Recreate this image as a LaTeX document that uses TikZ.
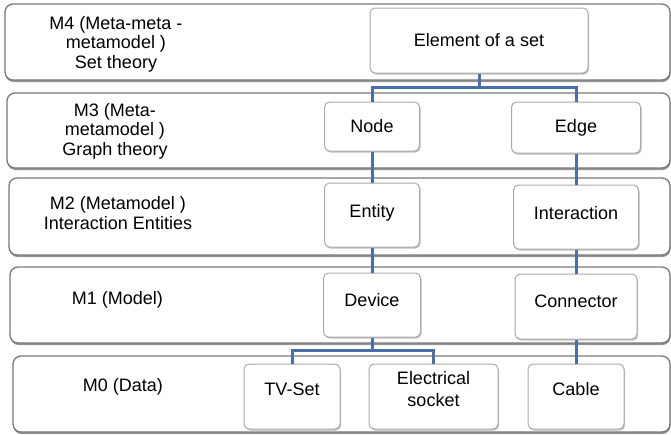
\documentclass[tikz,border=0pt]{standalone}
\usepackage{fontspec}
\setmainfont{Liberation Sans}
\usetikzlibrary{shadows}
\definecolor{linkblue}{RGB}{74,110,168}
\definecolor{bandgray}{RGB}{120,120,120}
\definecolor{boxgray}{RGB}{170,170,170}

\begin{document}
\begin{tikzpicture}[x=1pt, y=-1pt]

    % Styles
    \tikzstyle{layer} = [rectangle, rounded corners=8pt, draw=bandgray, line width=1.3pt, fill=white, drop shadow={shadow xshift=0.5pt, shadow yshift=-2pt, fill=black!70, opacity=0.6}]
    \tikzstyle{layertext} = [align=center, font=\fontsize{18}{19.5}\selectfont]
    \tikzstyle{bloc} = [rectangle, rounded corners=5pt, draw=boxgray, line width=1pt, fill=white, align=center, inner sep=2pt, font=\fontsize{18}{22}\selectfont, drop shadow={shadow xshift=1pt, shadow yshift=-1.5pt, fill=black!50, opacity=0.5}]
    \tikzstyle{link} = [draw=linkblue, line width=3pt]

    \useasboundingbox (0,0) rectangle (671,434);

    % Couches
    \node (m4) [layer, minimum width=665pt, minimum height=76pt] at (337.5,42) {};
    \node (m3) [layer, minimum width=663pt, minimum height=75pt] at (338.5,130.5) {};
    \node (m2) [layer, minimum width=661pt, minimum height=77pt] at (339.5,216.5) {};
    \node (m1) [layer, minimum width=660pt, minimum height=76pt] at (340,305) {};
    \node (m0) [layer, minimum width=657pt, minimum height=76pt] at (341.5,394) {};

    \node (m4-text) [layertext] at (116,44) {M4 (Meta-meta -\\metamodel )\\Set theory};
    \node (m3-text) [layertext] at (115,131) {M3 (Meta-\\metamodel )\\Graph theory};
    \node (m2-text) [layertext] at (118,213) {M2 (Metamodel )\\Interaction Entities};
    \node (m1-text) [layertext] at (117.5,300) {M1 (Model)};
    \node (m0-text) [layertext] at (123,387) {M0 (Data)};

    % Noeuds
    \node (element) [bloc, minimum width=218pt, minimum height=65pt] at (479,40.5) {Element of a set};
    \node (gnode) [bloc, minimum width=95pt, minimum height=49pt] at (372,126.5) {Node};
    \node (gedge) [bloc, minimum width=129pt, minimum height=51pt] at (576,127.5) {Edge};
    \node (entity) [bloc, minimum width=95pt, minimum height=64pt, text depth=8pt] at (372,215) {Entity};
    \node (interaction) [bloc, minimum width=125pt, minimum height=64pt, text depth=8pt] at (576,217) {Interaction};
    \node (device) [bloc, minimum width=97pt, minimum height=64pt, text depth=10pt] at (372,305) {Device};
    \node (connector) [bloc, minimum width=122pt, minimum height=65pt, text depth=10pt] at (576,306.5) {Connector};
    \node (tvset) [bloc, minimum width=96pt, minimum height=65pt, text depth=15pt] at (292,396.5) {TV-Set};
    \node (socket) [bloc, minimum width=129pt, minimum height=65pt, text depth=15pt] at (433.5,396.5) {Electrical\\socket};
    \node (cable) [bloc, minimum width=96pt, minimum height=65pt, text depth=15pt] at (576,396.5) {Cable};

    % Liens
    \draw [link] (element.south) -- ++(0,14) -| (gnode.north);
    \draw [link] (element.south) -- ++(0,14) -| (gedge.north);
    \draw [link] (gnode.south) -- (entity.north);
    \draw [link] (gedge.south) -- (interaction.north);
    \draw [link] (entity.south) -- (device.north);
    \draw [link] (interaction.south) -- (connector.north);
    \draw [link] (device.south) -- ++(0,13) -| (tvset.north);
    \draw [link] (device.south) -- ++(0,13) -| (socket.north);
    \draw [link] (connector.south) -- (cable.north);

\end{tikzpicture}
\end{document}
